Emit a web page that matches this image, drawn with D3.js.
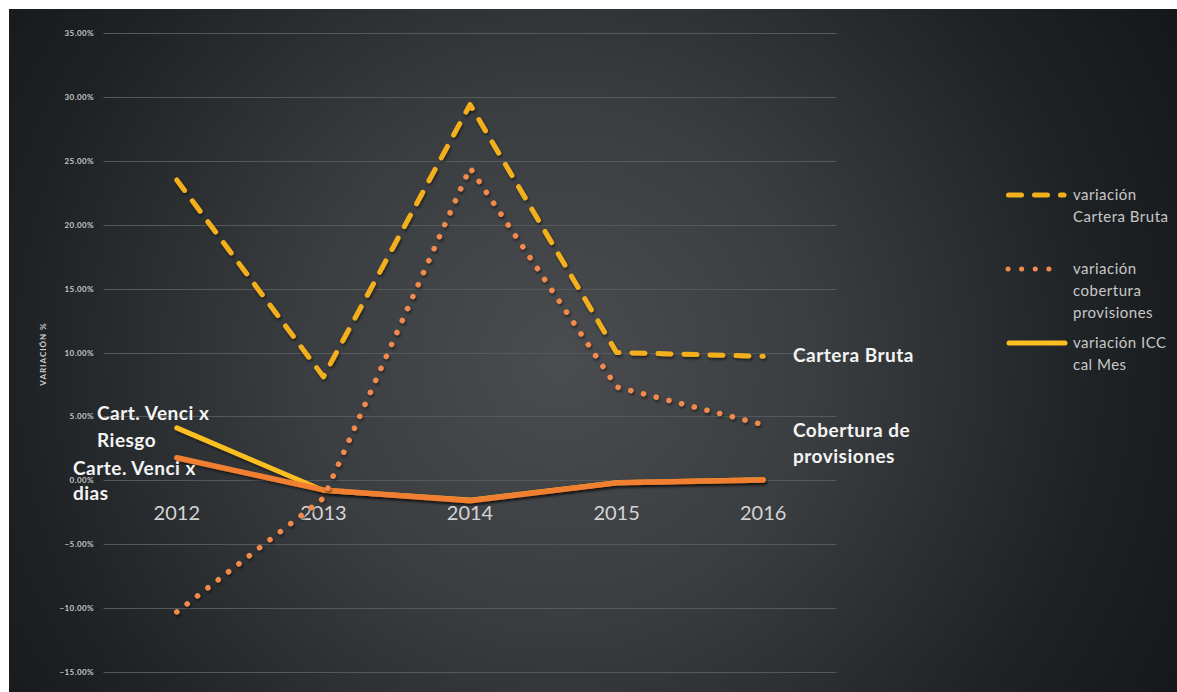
<!DOCTYPE html>
<html><head><meta charset="utf-8">
<script src="https://cdn.jsdelivr.net/npm/d3@7"></script>
<style>
html,body{margin:0;padding:0;background:#fff;}
svg{display:block;}
</style></head>
<body>
<svg id="chart" width="1177" height="692"></svg>
<script>
const years = ["2012","2013","2014","2015","2016"];
const carteraBruta = [23.5, 8.1, 29.4, 10.0, 9.7];
const coberturaProvisiones = [-10.3, -1.4, 24.45, 7.3, 4.35];
const iccCalMes = [4.1, -0.8, -1.55, -0.2, 0.05];
const carteVenciDias = [1.76, -0.75, -1.6, -0.2, 0.03];
const yTicks = [-15, -10, -5, 0, 5, 10, 15, 20, 25, 30, 35];
const legendItems = [
  {lines:["variación","Cartera Bruta"], key:"cartera"},
  {lines:["variación","cobertura","provisiones"], key:"cobertura"},
  {lines:["variación ICC","cal Mes"], key:"icc"}
];

const svg = d3.select("#chart");
const defs = svg.append("defs");
const rg = defs.append("radialGradient").attr("id","bg")
  .attr("gradientUnits","userSpaceOnUse")
  .attr("cx",560).attr("cy",360).attr("r",720).attr("fx",560).attr("fy",360);
rg.append("stop").attr("offset","0").attr("stop-color","#4a4c4f");
rg.append("stop").attr("offset","0.35").attr("stop-color","#3b3e41");
rg.append("stop").attr("offset","0.75").attr("stop-color","#1f2225");
rg.append("stop").attr("offset","1").attr("stop-color","#14171a");
const f = defs.append("filter").attr("id","sh").attr("x","-10%").attr("y","-10%").attr("width","120%").attr("height","120%");
f.append("feDropShadow").attr("dx",1).attr("dy",2).attr("stdDeviation",1.5).attr("flood-color","#000").attr("flood-opacity",0.55);

svg.append("rect").attr("x",9).attr("y",9).attr("width",1168).attr("height",683).attr("fill","url(#bg)");

const x = d3.scalePoint().domain(years).range([103.5, 836.5]).padding(0.5);
const y = d3.scaleLinear().domain([-15, 35]).range([672, 33]);

// gridlines
svg.append("g").selectAll("line").data(yTicks).join("line")
  .attr("x1",103.5).attr("x2",836.5)
  .attr("y1",d=>Math.round(y(d))+0.5).attr("y2",d=>Math.round(y(d))+0.5)
  .attr("stroke","#56595c").attr("stroke-width",1);

// y tick labels
svg.append("g").selectAll("text").data(yTicks).join("text")
  .attr("x",94).attr("y",d=>y(d)+3).attr("text-anchor","end")
  .attr("font-family","Lato, 'DejaVu Sans', sans-serif").attr("font-size",8).attr("font-weight","bold")
  .attr("letter-spacing",0.4)
  .attr("fill","#c4c4c4")
  .text(d=>d3.format(".2f")(d)+"%");

// y axis title
svg.append("text").attr("transform","translate(46,354) rotate(-90)")
  .attr("text-anchor","middle")
  .attr("font-family","Lato, 'DejaVu Sans', sans-serif").attr("font-size",8).attr("font-weight","bold")
  .attr("letter-spacing",1)
  .attr("fill","#d0d0d0").text("VARIACIÓN %");

// category labels
svg.append("g").selectAll("text").data(years).join("text")
  .attr("x",d=>x(d)).attr("y",520).attr("text-anchor","middle")
  .attr("font-family","Lato, 'Open Sans', sans-serif").attr("font-size",20)
  .attr("fill","#d4d4d4").text(d=>d);

const line = d3.line().x((d,i)=>x(years[i])).y(d=>y(d));
const series = [
  {data:iccCalMes, color:"#fbbf24", dash:null, w:5},
  {data:carteVenciDias, color:"#f07f33", dash:null, w:5.5},
  {data:carteraBruta, color:"#f4b01c", dash:"13 13", w:5},
  {data:coberturaProvisiones, color:"#f28a4c", dash:"0.1 13", w:5.5}
];
svg.append("g").selectAll("path").data(series).join("path")
  .attr("d",d=>line(d.data)).attr("fill","none")
  .attr("stroke",d=>d.color).attr("stroke-width",d=>d.w)
  .attr("stroke-linecap","round").attr("stroke-linejoin","round")
  .attr("stroke-dasharray",d=>d.dash)
  .attr("filter","url(#sh)");

// annotations
const ann = [
  {x:793, y:362, t:"Cartera Bruta"},
  {x:793, y:437, t:"Cobertura de"},
  {x:793, y:463, t:"provisiones"},
  {x:97, y:420, t:"Cart. Venci x"},
  {x:97, y:447, t:"Riesgo"},
  {x:73, y:475, t:"Carte. Venci x"},
  {x:73, y:500, t:"dias"}
];
svg.append("g").selectAll("text").data(ann).join("text")
  .attr("x",d=>d.x).attr("y",d=>d.y)
  .attr("font-family","Lato, 'Open Sans', sans-serif").attr("font-size",19).attr("font-weight","bold")
  .attr("letter-spacing",0.5)
  .attr("fill","#f4f4f4").text(d=>d.t);

// legend
const lg = svg.append("g");
const legY = [195, 269, 343];
const legStyle = {
  cartera:{color:"#f4b01c", dash:"13 13", x1:1008.5, x2:1064},
  cobertura:{color:"#f28a4c", dash:"0.1 13.5", x1:1008, x2:1062},
  icc:{color:"#fbbf24", dash:null, x1:1009, x2:1065}
};
legendItems.forEach((it,i)=>{
  const s = legStyle[it.key];
  lg.append("line").attr("x1",s.x1).attr("x2",s.x2).attr("y1",legY[i]).attr("y2",legY[i])
    .attr("stroke",s.color).attr("stroke-width",5).attr("stroke-linecap","round")
    .attr("stroke-dasharray",s.dash);
  it.lines.forEach((t,j)=>{
    lg.append("text").attr("x",1073).attr("y",legY[i]+5+j*22)
      .attr("font-family","Lato, 'Open Sans', sans-serif").attr("font-size",15)
      .attr("letter-spacing",0.5)
      .attr("fill","#c8c8c8").text(t);
  });
});
</script>
</body></html>
